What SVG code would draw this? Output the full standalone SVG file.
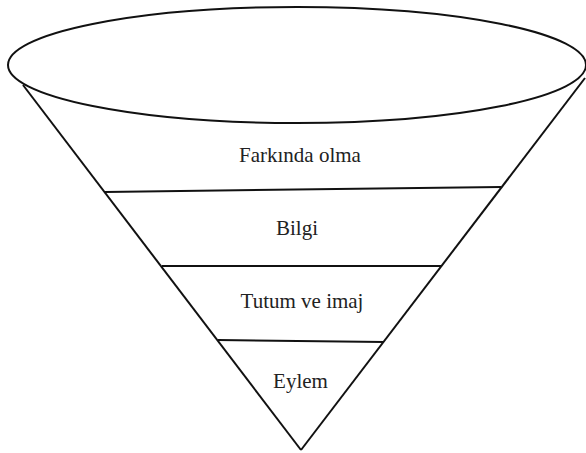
<svg xmlns="http://www.w3.org/2000/svg" width="586" height="453" viewBox="0 0 586 453">
<style>
.s{fill:none;stroke:#111;stroke-width:2}
.t{font-family:"Liberation Serif","Times New Roman","DejaVu Serif",serif;font-size:21px;fill:#222;text-anchor:middle}
</style>
<rect width="586" height="453" fill="#fff"/>
<g id="funnel-top">
<ellipse class="s" cx="297" cy="65" rx="289" ry="58"/>
</g>
<g id="connectors">
<line class="s" x1="23" y1="85" x2="301" y2="450"/>
<line class="s" x1="585" y1="78" x2="301" y2="450"/>
<line class="s" x1="105" y1="192" x2="501" y2="187"/>
<line class="s" x1="162" y1="266" x2="441" y2="266"/>
<line class="s" x1="218" y1="340" x2="384" y2="342"/>
</g>
<g id="farkinda"><text class="t" x="300" y="162">Farkında olma</text></g>
<g id="bilgi"><text class="t" x="297" y="235">Bilgi</text></g>
<g id="tutum"><text class="t" x="302" y="308">Tutum ve imaj</text></g>
<g id="eylem"><text class="t" x="300.5" y="388">Eylem</text></g>
</svg>
